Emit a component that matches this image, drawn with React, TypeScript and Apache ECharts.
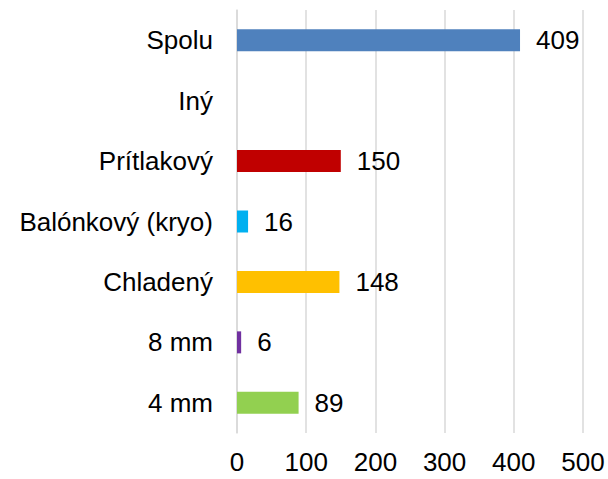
import React, { useEffect, useRef } from "react";
import * as echarts from "echarts";

const categories = ["4 mm", "8 mm", "Chladený", "Balónkový (kryo)", "Prítlakový", "Iný", "Spolu"];
const values: (number | null)[] = [89, 6, 148, 16, 150, null, 409];
const colors = ["#92D050", "#7030A0", "#FFC000", "#00B0F0", "#C00000", "#A5A5A5", "#4F81BD"];
const xTicks = [0, 100, 200, 300, 400, 500];

const FONT = "'Liberation Sans', Arial, sans-serif";

export default function App() {
  const ref = useRef<HTMLDivElement>(null);
  useEffect(() => {
    if (!ref.current) return;
    const chart = echarts.init(ref.current, undefined, { renderer: "svg" });
    chart.setOption({
      animation: false,
      backgroundColor: "#ffffff",
      grid: { left: 237, right: 25, top: 10, bottom: 46, containLabel: false },
      xAxis: {
        type: "value",
        min: xTicks[0],
        max: xTicks[xTicks.length - 1],
        interval: 100,
        axisLine: { show: false },
        axisTick: { show: false },
        splitLine: { show: true, lineStyle: { color: "#d9d9d9", width: 1.5 } },
        axisLabel: { color: "#000", fontSize: 26, fontFamily: FONT, margin: 16 },
      },
      yAxis: {
        type: "category",
        data: categories,
        axisLine: { show: true, lineStyle: { color: "#d9d9d9", width: 1.5 } },
        axisTick: { show: false },
        axisLabel: { color: "#000", fontSize: 26, fontFamily: FONT, margin: 24 },
      },
      series: [
        {
          type: "bar",
          barWidth: 22,
          data: values.map((v, i) => ({ value: v, itemStyle: { color: colors[i] } })),
          label: {
            show: true,
            position: "right",
            distance: 16,
            color: "#000",
            fontSize: 26,
            fontFamily: FONT,
            formatter: (p: any) => (p.value == null ? "" : String(p.value)),
          },
        },
      ],
    });
    return () => chart.dispose();
  }, []);
  return <div ref={ref} style={{ position: "fixed", left: 0, top: 0, width: 608, height: 479 }} />;
}
